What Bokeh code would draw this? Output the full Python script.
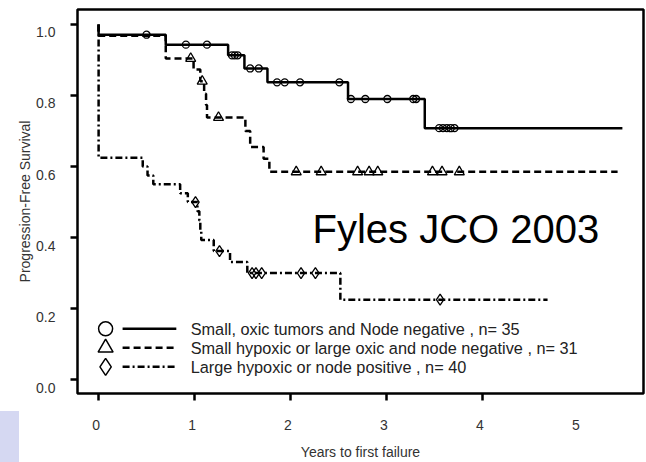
import numpy as np
from bokeh.plotting import figure
from bokeh.models import Range1d, FixedTicker, Label, LinearAxis, CustomLabelingPolicy
from bokeh.embed import file_html
from bokeh.resources import INLINE
from bokeh.core.properties import value

# ---------------- data ----------------
# Group A: Small, oxic tumors and Node negative, n = 35
a_time = [0, 0, 0.70, 1.35, 1.52, 1.76, 2.60, 3.40, 5.46]
a_surv = [1.0, 0.971, 0.943, 0.913, 0.876, 0.837, 0.790, 0.708, 0.708]
a_cens = [0.50, 0.91, 1.13, 1.39, 1.42, 1.45, 1.58, 1.67, 1.86, 1.94, 2.10,
          2.51, 2.63, 2.78, 3.01, 3.28, 3.31, 3.55, 3.59, 3.63, 3.67, 3.71]

# Group B: Small hypoxic or large oxic and node negative, n = 31
b_time = [0, 0, 0.70, 0.99, 1.06, 1.10, 1.12, 1.13, 1.53, 1.58, 1.72, 1.78, 5.41]
b_surv = [1.0, 0.968, 0.904, 0.873, 0.840, 0.805, 0.773, 0.738, 0.700, 0.655,
          0.622, 0.585, 0.585]
b_cens = [0.96, 1.08, 1.25, 2.06, 2.32, 2.70, 2.82, 2.91, 3.48, 3.58, 3.76]

# Group C: Large hypoxic or node positive, n = 40
c_time = [0, 0, 0.46, 0.51, 0.57, 0.85, 0.93, 1.03, 1.05, 1.06, 1.07, 1.20,
          1.37, 1.55, 2.52, 4.68]
c_surv = [1.0, 0.625, 0.600, 0.575, 0.550, 0.525, 0.500, 0.474, 0.448, 0.421,
          0.393, 0.362, 0.331, 0.300, 0.225, 0.225]
c_cens = [1.01, 1.26, 1.60, 1.64, 1.70, 2.11, 2.26, 3.56]

labels = ["Small, oxic tumors and Node negative , n= 35",
          "Small hypoxic or large oxic and node negative , n= 31",
          "Large hypoxic or node positive , n= 40"]

x_tick_marks = [0, 1, 2, 3, 4]
x_tick_labels = [0, 1, 2, 3, 4, 5]
y_ticks = [0.0, 0.2, 0.4, 0.6, 0.8, 1.0]
annotation_text = "Fyles JCO 2003"


def step_value(times, surv, t):
    idx = np.searchsorted(np.asarray(times), np.asarray(t), side="right") - 1
    return list(np.asarray(surv)[idx])


FONT = "Liberation Sans"
X0, X1 = -0.22, 5.68
Y0, Y1 = -0.039, 1.042
# the scanned original prints its tick labels a few pixels off their ticks
XLAB_SHIFT = 0.026   # ~2.5 px to the left
YLAB_SHIFT = 0.0225  # ~8 px downwards

p = figure(width=646, height=462, output_backend="svg", toolbar_location=None,
           x_range=Range1d(X0, X1), y_range=Range1d(Y0, Y1),
           min_border_left=77, min_border_right=3, min_border_top=9,
           min_border_bottom=68)
p.extra_x_ranges = {"xl": Range1d(X0 + XLAB_SHIFT, X1 + XLAB_SHIFT)}
p.extra_y_ranges = {"yl": Range1d(Y0 + YLAB_SHIFT, Y1 + YLAB_SHIFT)}

p.grid.visible = False
p.outline_line_color = "black"
p.outline_line_width = 2.5
p.background_fill_color = "white"
# transparent border so the page background (with the lavender tab) shows
p.border_fill_color = None
p.styles = {
    "background": "linear-gradient(#d5d8f2, #d5d8f2) 0px 411px / 19px 51px no-repeat, #ffffff"
}

# inner axes: tick marks only (all labels filtered out)
no_labels = CustomLabelingPolicy(code="""
    const all = Array.from(indices)
    for (const i of all) indices.unset(i)
    return indices
""")
for ax in (p.xaxis[0], p.yaxis[0]):
    ax.axis_line_color = None
    ax.major_tick_in = 0
    ax.major_tick_out = 7
    ax.major_tick_line_width = 2.5
    ax.major_tick_line_color = "black"
    ax.minor_tick_line_color = None
    ax.major_label_standoff = 0
    ax.major_label_text_font_size = "1px"
    ax.major_label_policy = no_labels
p.xaxis.ticker = FixedTicker(ticks=x_tick_marks)
p.yaxis.ticker = FixedTicker(ticks=y_ticks)

# outer axes: labels only
xlab = LinearAxis(x_range_name="xl", ticker=FixedTicker(ticks=x_tick_labels))
ylab = LinearAxis(y_range_name="yl", ticker=FixedTicker(ticks=y_ticks))
ylab.major_label_overrides = {t: f"{t:.1f}" for t in y_ticks}
for ax in (xlab, ylab):
    ax.axis_line_color = None
    ax.major_tick_in = 0
    ax.major_tick_out = 0
    ax.major_tick_line_color = None
    ax.minor_tick_line_color = None
    ax.major_label_text_font = FONT
    ax.major_label_text_font_size = "14px"
    ax.major_label_text_color = "#333333"
    ax.axis_label_text_font = FONT
    ax.axis_label_text_font_size = "14px"
    ax.axis_label_text_font_style = "normal"
    ax.axis_label_text_color = "#333333"
xlab.major_label_standoff = 15
ylab.major_label_standoff = 11
xlab.axis_label = "Years to first failure"
ylab.axis_label = "Progression-Free Survival"
xlab.axis_label_standoff = 11
ylab.axis_label_standoff = 0
p.add_layout(xlab, "below")
p.add_layout(ylab, "left")

LW = 2.5
styles = [
    dict(line_dash="solid", marker="circle", size=7, leg_size=14),
    dict(line_dash="7 4", marker="triangle", size=10, leg_size=15),
    dict(line_dash="7 3 2 3", marker="diamond", size=11, leg_size=17),
]
groups = [(a_time, a_surv, a_cens), (b_time, b_surv, b_cens), (c_time, c_surv, c_cens)]

for (t, s, cens), st in zip(groups, styles):
    p.step(t, s, mode="after", line_color="black", line_width=LW,
           line_dash=st["line_dash"])
    p.scatter(cens, step_value(t, s, cens), marker=st["marker"], size=st["size"],
              fill_alpha=0, line_color="black", line_width=1.3)

# ---------------- legend (layout in data units of the frame) ----------------
leg_rows = [0.143, 0.090, 0.036]
leg_marker_x = 0.073
leg_line_x0, leg_line_x1 = 0.25, 0.81
leg_text_x = 0.96
for row_y, st, lab in zip(leg_rows, styles, labels):
    p.scatter([leg_marker_x], [row_y], marker=st["marker"], size=st["leg_size"],
              fill_color="white", line_color="black", line_width=1.5)
    p.segment(x0=[leg_line_x0], y0=[row_y], x1=[leg_line_x1], y1=[row_y],
              line_color="black", line_width=LW, line_dash=st["line_dash"])
    p.text(x=[leg_text_x], y=[row_y], text=[lab], text_font=value(FONT),
           text_font_size="16.3px", text_color="#222222", text_baseline="middle",
           text_align="left")

p.add_layout(Label(x=2.23, y=0.425, text=annotation_text, text_font=FONT,
                   text_font_size="40px", text_color="black",
                   text_baseline="alphabetic"))

open("out.html", "w").write(file_html(p, INLINE))
